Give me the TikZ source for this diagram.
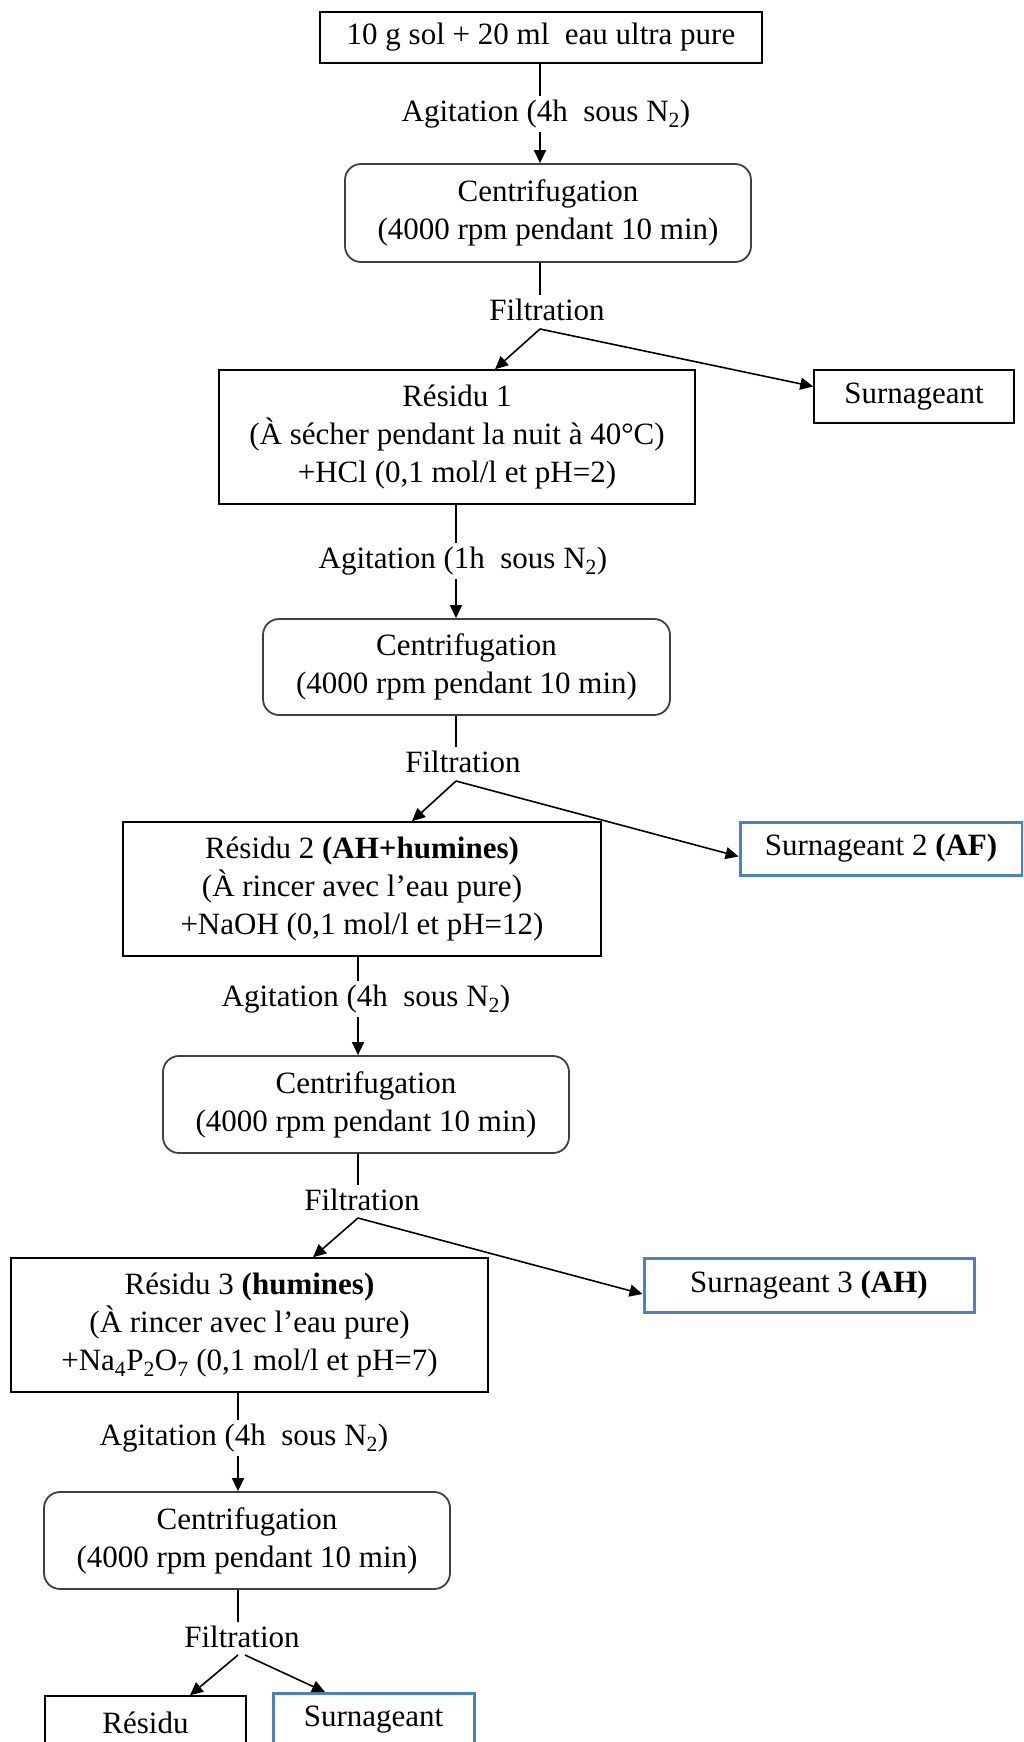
\documentclass[tikz,border=0pt]{standalone}
\usepackage{fontspec}
\setmainfont{Liberation Serif}
\usetikzlibrary{arrows.meta}
\definecolor{wordblue}{HTML}{4F81BD}
\definecolor{boxgray}{HTML}{404040}

\begin{document}
\begin{tikzpicture}[x={(1pt,0)},y={(0,-1pt)},>={Triangle[length=13pt,width=12pt]},
  line width=1.6pt,
  every node/.style={font=\fontsize{31}{38}\selectfont,align=center,inner sep=3pt},
  box/.style={draw,line width=1.5pt},
  round box/.style={draw=boxgray,line width=1.8pt,rounded corners=16pt},
  blue box/.style={draw=wordblue,line width=3pt}]

  \useasboundingbox (0,0) rectangle (1023,1742);
  \clip (0,0) rectangle (1023,1742);

  % first extraction (eau)
  \node[box,minimum width=442pt,minimum height=51pt] (start) at (541,37.5) {10 g sol + 20 ml~ eau ultra pure};
  \node (agit1) at (546,114) {Agitation (4h~ sous N\textsubscript{2})};
  \node[round box,minimum width=406pt,minimum height=98pt] (centr1) at (548,213) {Centrifugation\\(4000 rpm pendant 10 min)};
  \node (filt1) at (547,310) {Filtration};
  \coordinate (f1) at (540,329);
  \node[box,minimum width=476pt,minimum height=134pt] (res1) at (457,437)
    {Résidu 1\\(À sécher pendant la nuit à 40°C)\\+HCl (0,1 mol/l et pH=2)};
  \node[box,minimum width=200pt,minimum height=53pt] (surn1) at (914,396.5) {Surnageant};

  % HCl
  \node (agit2) at (463,561) {Agitation (1h~ sous N\textsubscript{2})};
  \node[round box,minimum width=407pt,minimum height=96pt] (centr2) at (466.5,667) {Centrifugation\\(4000 rpm pendant 10 min)};
  \node (filt2) at (463,762) {Filtration};
  \coordinate (f2) at (456,781);
  \node[box,minimum width=478pt,minimum height=134pt] (res2) at (362,889)
    {Résidu 2 \textbf{(AH+humines)}\\(À rincer avec l’eau pure)\\+NaOH (0,1 mol/l et pH=12)};
  \node[blue box,minimum width=282pt,minimum height=53pt] (surn2) at (881,848.5) {Surnageant 2 \textbf{(AF)}};

  % NaOH
  \node (agit3) at (366,999) {Agitation (4h~ sous N\textsubscript{2})};
  \node[round box,minimum width=406pt,minimum height=97pt] (centr3) at (366,1104.5) {Centrifugation\\(4000 rpm pendant 10 min)};
  \node (filt3) at (362,1200) {Filtration};
  \coordinate (f3) at (358,1218);
  \node[box,minimum width=477pt,minimum height=134pt] (res3) at (249.5,1325)
    {Résidu 3 \textbf{(humines)}\\(À rincer avec l’eau pure)\\+Na\textsubscript{4}P\textsubscript{2}O\textsubscript{7} (0,1 mol/l et pH=7)};
  \node[blue box,minimum width=330pt,minimum height=54pt] (surn3) at (809,1285) {Surnageant 3 \textbf{(AH)}};

  % Na4P2O7
  \node (agit4) at (244,1438) {Agitation (4h~ sous N\textsubscript{2})};
  \node[round box,minimum width=406pt,minimum height=97pt] (centr4) at (247,1540.5) {Centrifugation\\(4000 rpm pendant 10 min)};
  \node (filt4) at (242,1637) {Filtration};
  \coordinate (f4) at (238,1655);
  \node[box,minimum width=201pt,minimum height=53pt] (resf) at (145.5,1722.5) {Résidu};
  \node[blue box,minimum width=201pt,minimum height=53pt] (surnf) at (373.5,1720) {Surnageant};

  % connectors
  \draw (start.south -| f1) -- (f1 |- agit1.north);
  \draw[->] (f1 |- agit1.south) -- (f1 |- centr1.north);
  \draw (f1 |- centr1.south) -- (f1 |- filt1.north);
  \draw[->] (f1) -- ([xshift=38pt]res1.north);
  \draw[->] (f1) -- ([yshift=10pt]surn1.west);

  \draw (res1.south -| f2) -- (f2 |- agit2.north);
  \draw[->] (f2 |- agit2.south) -- (f2 |- centr2.north);
  \draw (f2 |- centr2.south) -- (f2 |- filt2.north);
  \draw[->] (f2) -- ([xshift=50pt]res2.north);
  \draw[->] (f2) -- ([yshift=-8pt]surn2.west);

  \draw (res2.south -| f3) -- (f3 |- agit3.north);
  \draw[->] (f3 |- agit3.south) -- (f3 |- centr3.north);
  \draw (f3 |- centr3.south) -- (f3 |- filt3.north);
  \draw[->] (f3) -- ([xshift=63.5pt]res3.north);
  \draw[->] (f3) -- ([yshift=-9pt]surn3.west);

  \draw (res3.south -| f4) -- (f4 |- agit4.north);
  \draw[->] (f4 |- agit4.south) -- (f4 |- centr4.north);
  \draw (f4 |- centr4.south) -- (f4 |- filt4.north);
  \draw[->] (f4) -- ([xshift=44.5pt]resf.north);
  \draw[->] ([xshift=7pt]f4) -- ([xshift=-48.5pt]surnf.north);
\end{tikzpicture}
\end{document}
